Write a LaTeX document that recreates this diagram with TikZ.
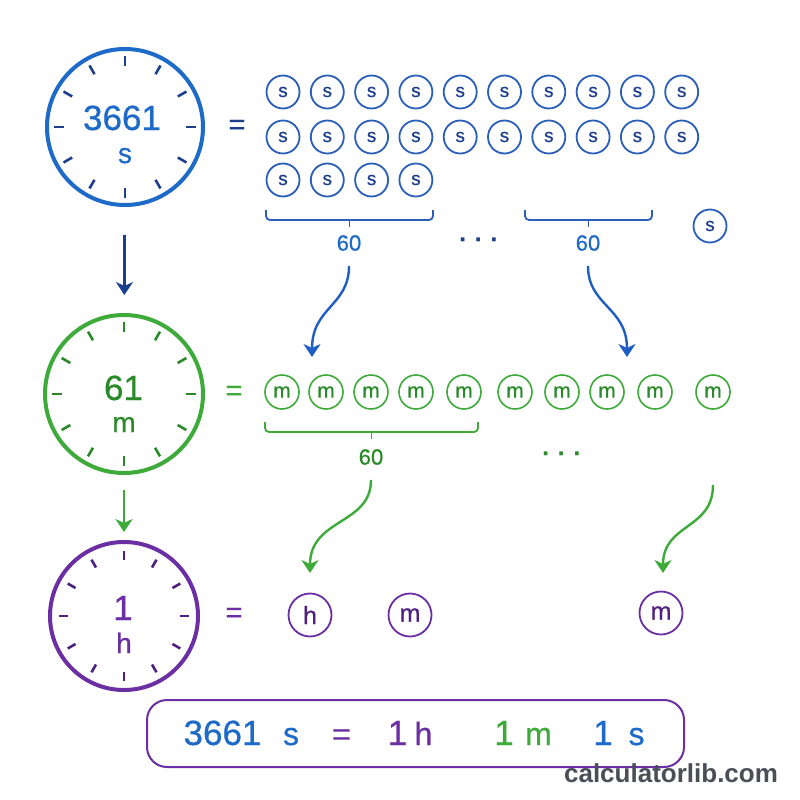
\documentclass[tikz,border=0pt]{standalone}
\usepackage{fontspec}
\setmainfont{Liberation Sans}
\newfontfamily\medsans{Liberation Sans}[FakeBold=0.6]
\usetikzlibrary{arrows.meta}
\definecolor{SecBlue}{HTML}{1E6AC8}
\definecolor{SecInk}{HTML}{1C3F8C}
\definecolor{SecCoin}{HTML}{2A5EB8}
\definecolor{ArcBlue}{HTML}{1F5FC4}
\definecolor{MinGreen}{HTML}{3DAA3A}
\definecolor{MinInk}{HTML}{2A8A2A}
\definecolor{HrPurple}{HTML}{6B2FA3}
\definecolor{HrInk}{HTML}{4E2080}
\definecolor{Mark}{HTML}{4A4F57}

\begin{document}
\begin{tikzpicture}[x=1pt,y=-1pt,
  clockring/.style={circle,draw=#1,line width=4pt,inner sep=0pt},
  clocktick/.style={#1,line width=2.6pt},
  bignum/.style={anchor=base,inner sep=0pt,text=#1,font=\medsans\fontsize{35pt}{35pt}\selectfont},
  unitlbl/.style={anchor=base,inner sep=0pt,text=#1,font=\medsans\fontsize{28pt}{28pt}\selectfont},
  eqsign/.style={inner sep=0pt,text=#1,font=\medsans\fontsize{29pt}{29pt}\selectfont},
  scoin/.style={circle,draw=SecCoin,line width=1.8pt,minimum size=33pt,inner sep=0pt,text=SecInk,font=\medsans\fontsize{19pt}{19pt}\selectfont},
  mcoin/.style={circle,draw=MinGreen,line width=1.6pt,minimum size=34pt,inner sep=0pt,text=MinInk,font=\medsans\fontsize{21pt}{21pt}\selectfont},
  hcoin/.style={circle,draw=HrPurple,line width=1.8pt,minimum size=43pt,inner sep=0pt,text=HrInk,font=\medsans\fontsize{25pt}{25pt}\selectfont},
  bracket/.style={draw=#1,line width=1.8pt,rounded corners=4pt},
  countlbl/.style={inner sep=0pt,text=#1,font=\medsans\fontsize{22pt}{22pt}\selectfont},
  ellipsis/.style={inner sep=0pt,text=#1,font=\bfseries\fontsize{26pt}{26pt}\selectfont},
  downarrow/.style={-{Stealth[length=13pt,width=17pt,inset=4pt]},draw=#1,line width=2.8pt},
  arcarrow/.style={-{Stealth[length=13pt,width=17pt,inset=4pt]},draw=#1,line width=2.4pt},
  resultbox/.style={draw=HrPurple,line width=2pt,rounded corners=20pt,minimum width=537pt,minimum height=67pt,inner sep=0pt},
  reslbl/.style={anchor=base,inner sep=0pt,text=#1,font=\medsans\fontsize{32pt}{32pt}\selectfont},
  resnum/.style={anchor=base,inner sep=0pt,text=#1,font=\medsans\fontsize{35pt}{35pt}\selectfont},
]
\fill[white] (0,0) rectangle (800,800);
\useasboundingbox (0,0) rectangle (800,800);

% seconds
\node[clockring=SecBlue,minimum size=156pt] (clkS) at (125,127) {};
\foreach \a in {0,30,...,330}
  \draw[clocktick=SecInk] (clkS.center) ++(\a:61) -- ++(\a:10);
\node[bignum=SecBlue] (numS) at (122,130) {3661};
\node[unitlbl=SecBlue] (unitS) at (125,163) {s};
\node[eqsign=SecInk] (eqS) at (237,127) {=};

\node[scoin] (s1) at (283,92) {s};
\node[scoin] (s2) at (327.3,92) {s};
\node[scoin] (s3) at (371.6,92) {s};
\node[scoin] (s4) at (415.9,92) {s};
\node[scoin] (s5) at (460.2,92) {s};
\node[scoin] (s6) at (504.5,92) {s};
\node[scoin] (s7) at (548.8,92) {s};
\node[scoin] (s8) at (593.1,92) {s};
\node[scoin] (s9) at (637.4,92) {s};
\node[scoin] (s10) at (681.7,92) {s};
\node[scoin] (s11) at (283,137) {s};
\node[scoin] (s12) at (327.3,137) {s};
\node[scoin] (s13) at (371.6,137) {s};
\node[scoin] (s14) at (415.9,137) {s};
\node[scoin] (s15) at (460.2,137) {s};
\node[scoin] (s16) at (504.5,137) {s};
\node[scoin] (s17) at (548.8,137) {s};
\node[scoin] (s18) at (593.1,137) {s};
\node[scoin] (s19) at (637.4,137) {s};
\node[scoin] (s20) at (681.7,137) {s};
\node[scoin] (s21) at (283,180) {s};
\node[scoin] (s22) at (327.3,180) {s};
\node[scoin] (s23) at (371.6,180) {s};
\node[scoin] (s24) at (415.9,180) {s};
\node[scoin] (sLast) at (710,226) {s};

\draw[bracket=SecCoin] (266,210) -- (266,220) -- (433,220) -- (433,210);
\draw[bracket=SecCoin] (349.5,220) -- (349.5,227);
\draw[bracket=SecCoin] (525,210) -- (525,220) -- (652,220) -- (652,210);
\draw[bracket=SecCoin] (588.5,220) -- (588.5,227);
\node[countlbl=SecBlue] (cntA) at (349,243) {60};
\node[ellipsis=SecInk] (dotsA) at (479,243) {·\hspace{7pt}·\hspace{7pt}·};
\node[countlbl=SecBlue] (cntB) at (588,243) {60};

% minutes
\node[clockring=MinGreen,minimum size=158pt] (clkM) at (124,394) {};
\foreach \a in {0,30,...,330}
  \draw[clocktick=MinInk] (clkM.center) ++(\a:62) -- ++(\a:10);
\node[bignum=MinInk] (numM) at (123.5,400) {61};
\node[unitlbl=MinInk] (unitM) at (124,432) {m};
\node[eqsign=MinGreen] (eqM) at (234,393) {=};

\node[mcoin] (m1) at (282,392) {m};
\node[mcoin] (m2) at (326,392) {m};
\node[mcoin] (m3) at (371,392) {m};
\node[mcoin] (m4) at (416,392) {m};
\node[mcoin] (m5) at (464,392) {m};
\node[mcoin] (m6) at (515,392) {m};
\node[mcoin] (m7) at (562,392) {m};
\node[mcoin] (m8) at (607,392) {m};
\node[mcoin] (m9) at (655,392) {m};
\node[mcoin] (m10) at (713,392) {m};

\draw[bracket=MinGreen] (265,422) -- (265,432) -- (478,432) -- (478,422);
\draw[bracket=MinGreen] (371.5,432) -- (371.5,439);
\node[countlbl=MinInk] (cntC) at (371,457) {60};
\node[ellipsis=MinInk] (dotsC) at (562,457) {·\hspace{7pt}·\hspace{7pt}·};

% hours
\node[clockring=HrPurple,minimum size=148pt] (clkH) at (124,616) {};
\foreach \a in {0,30,...,330}
  \draw[clocktick=HrInk] (clkH.center) ++(\a:56) -- ++(\a:9);
\node[bignum=HrPurple] (numH) at (123,620) {1};
\node[unitlbl=HrPurple] (unitH) at (124,653) {h};
\node[eqsign=HrPurple] (eqH) at (234,615) {=};

\node[hcoin] (hh) at (310,615) {h};
\node[hcoin] (hm1) at (410,615) {m};
\node[hcoin] (hm2) at (661,613) {m};

% arrows
\coordinate (tipA) at (312,357);
\coordinate (tipB) at (627,357);
\coordinate (tipC) at (310,573);
\coordinate (srcD) at (713,485);
\coordinate (tipD) at (663,573);
\draw[downarrow=SecInk,shorten <=28pt,shorten >=18pt] (clkS) -- (clkM);
\draw[downarrow=MinGreen,shorten <=15pt,shorten >=8pt] (clkM) -- (clkH);
\draw[arcarrow=ArcBlue,shorten <=15pt] (cntA.south) .. controls +(0,55) and +(0,-50) .. (tipA);
\draw[arcarrow=ArcBlue,shorten <=15pt] (cntB.south) .. controls +(0,55) and +(0,-50) .. (tipB);
\draw[arcarrow=MinGreen,shorten <=15pt] (cntC.south) .. controls +(0,60) and +(0,-55) .. (tipC);
\draw[arcarrow=MinGreen] (srcD) .. controls +(0,45) and +(0,-50) .. (tipD);

% result
\node[resultbox] (result) at (415.5,733.5) {};
\node[resnum=SecBlue] (r1) at (222.5,745) {3661};
\node[reslbl=SecBlue] (r2) at (291,745) {s};
\node[reslbl=HrPurple] (r3) at (341.5,745) {=};
\node[resnum=HrPurple] (r4) at (397.5,745) {1};
\node[reslbl=HrPurple] (r5) at (423.5,745) {h};
\node[resnum=MinGreen] (r6) at (504,745) {1};
\node[reslbl=MinGreen] (r7) at (538.5,745) {m};
\node[resnum=SecBlue] (r8) at (603,745) {1};
\node[reslbl=SecBlue] (r9) at (636.5,745) {s};

\node[anchor=base,inner sep=0pt,text=Mark,font=\bfseries\fontsize{26pt}{26pt}\selectfont] (mark) at (671,782) {calculatorlib.com};
\end{tikzpicture}
\end{document}
